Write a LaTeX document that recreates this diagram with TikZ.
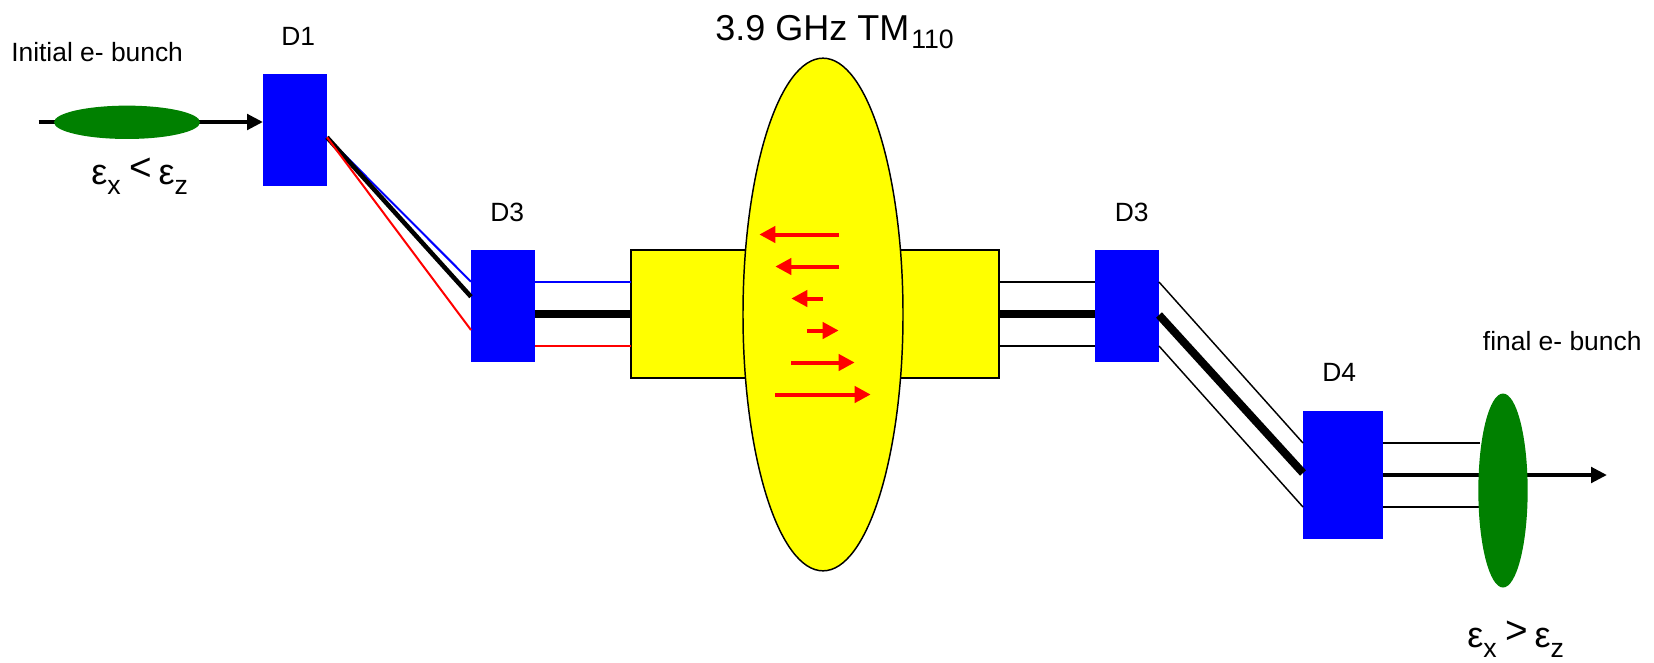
\documentclass[tikz,border=0pt]{standalone}
\usepackage{fontspec}
\setmainfont{Liberation Sans}
\usepackage{xcolor}
\usetikzlibrary{arrows.meta,shapes.geometric}
\definecolor{bunchgreen}{RGB}{0,128,0}
\definecolor{cavyellow}{RGB}{255,255,0}
\newcommand{\lowsub}[1]{\raisebox{-7.5pt}{\fontsize{20pt}{20pt}\selectfont #1}}
\newcommand{\highrel}[1]{\hspace{-1pt}\raisebox{2.5pt}{\fontsize{29pt}{29pt}\selectfont #1}\hspace{-2.5pt}}
\tikzset{
    dipole/.style={rectangle, fill=blue, inner sep=0, outer sep=0},
    bunch/.style={ellipse, fill=bunchgreen, inner sep=0, outer sep=0},
    cavity/.style={fill=cavyellow, draw=black, inner sep=0, outer sep=0},
    label/.style={anchor=base west, inner sep=0, font=\fontsize{19.8pt}{19.8pt}\selectfont},
    emit/.style={anchor=base west, inner sep=0, font=\fontsize{27pt}{27pt}\selectfont},
    thinray/.style={line width=1.5pt},
    slimray/.style={line width=1.1pt},
    midray/.style={line width=3.4pt},
    fatray/.style={line width=6pt},
    beam/.style={line width=3pt, -{Triangle[length=12pt,width=11.5pt]}},
    kick/.style={red, line width=3pt, -{Triangle[length=12pt,width=12pt]}}
}

\begin{document}
\begin{tikzpicture}[x=0.75pt, y=-0.75pt]
    \useasboundingbox (0,0) rectangle (1654,662);

    % Dipoles
    \node[dipole, minimum width=48pt, minimum height=84pt] (dipa) at (295,129.8) {};
    \node[dipole, minimum width=48pt, minimum height=84pt] (dipb) at (503,305.9) {};
    \node[dipole, minimum width=48pt, minimum height=84pt] (dipc) at (1127,305.9) {};
    \node[dipole, minimum width=60pt, minimum height=96pt] (dipd) at (1343,475) {};

    % Cavity: side arms and round body
    \node[cavity, line width=1.5pt, minimum width=276pt, minimum height=96pt] (arm) at (815.2,314.3) {};
    \node[cavity, ellipse, line width=1.1pt, minimum width=120pt, minimum height=384.5pt] (body) at (823,314.5) {};

    % End points of the rays
    \coordinate (start) at (38.6,122);
    \coordinate (outa) at (327,137.3);
    \coordinate (bluea) at (471,281.7);
    \coordinate (blacka) at (471,296.7);
    \coordinate (reda) at (471,330);
    \coordinate (blueb) at (535,282);
    \coordinate (blackb) at (535,314);
    \coordinate (redb) at (535,346);
    \coordinate (bluec) at (631,282);
    \coordinate (blackc) at (631,314);
    \coordinate (redc) at (631,346);
    \coordinate (upc) at (999,282);
    \coordinate (midc) at (999,314);
    \coordinate (lowc) at (999,346);
    \coordinate (upd) at (1095,282);
    \coordinate (midd) at (1095,314);
    \coordinate (lowd) at (1095,346);
    \coordinate (upe) at (1159,282);
    \coordinate (mide) at (1159,315);
    \coordinate (lowe) at (1159,346);
    \coordinate (upf) at (1303,443);
    \coordinate (midf) at (1303,473);
    \coordinate (lowf) at (1303,507);
    \coordinate (upg) at (1383,443);
    \coordinate (lowg) at (1383,507);
    \coordinate (uph) at (1480,443);
    \coordinate (lowh) at (1480,507);
    \coordinate (stop) at (1607,475);

    % Beam in, first bend
    \draw[beam] (start) -- (dipa.west |- start);
    \draw[thinray, blue] (outa) -- (bluea);
    \draw[midray] (outa) -- (blacka);
    \draw[thinray, red] (outa) -- (reda);

    % Into the cavity
    \draw[thinray, blue] (blueb) -- (bluec);
    \draw[fatray] (blackb) -- (blackc);
    \draw[thinray, red] (redb) -- (redc);

    % Out of the cavity
    \draw[thinray] (upc) -- (upd);
    \draw[fatray] (midc) -- (midd);
    \draw[thinray] (lowc) -- (lowd);

    % Second bend
    \draw[slimray] (upe) -- (upf);
    \draw[fatray] (mide) -- (midf);
    \draw[slimray] (lowe) -- (lowf);

    % Beam out
    \draw[thinray] (upg) -- (uph);
    \draw[thinray] (lowg) -- (lowh);
    \draw[beam] (dipd.east) -- (stop);

    % Bunches
    \node[bunch, minimum width=109.5pt, minimum height=25pt] (bunchin) at (127,122.3) {};
    \node[bunch, minimum width=37pt, minimum height=145.5pt] (bunchout) at (1503,490.5) {};

    % Kicks along the bunch
    \coordinate (kaa) at (839,234.5); \coordinate (kab) at (759.3,234.5);
    \coordinate (kba) at (839,266.5); \coordinate (kbb) at (775.3,266.5);
    \coordinate (kca) at (823,298.5); \coordinate (kcb) at (791.3,298.5);
    \coordinate (kda) at (807,330.5); \coordinate (kdb) at (838.7,330.5);
    \coordinate (kea) at (791,362.5); \coordinate (keb) at (854.7,362.5);
    \coordinate (kfa) at (775,394.5); \coordinate (kfb) at (870.7,394.5);
    \draw[kick] (kaa) -- (kab);
    \draw[kick] (kba) -- (kbb);
    \draw[kick] (kca) -- (kcb);
    \draw[kick] (kda) -- (kdb);
    \draw[kick] (kea) -- (keb);
    \draw[kick] (kfa) -- (kfb);

    % Labels
    \node[label] (lbinit) at (11,61.7) {Initial e- bunch};
    \node[label] (lbfinal) at (1482.7,350) {final e- bunch};
    \node[label] (lba) at (281,45.7) {D1};
    \node[label] (lbb) at (490,221.7) {D3};
    \node[label] (lbc) at (1114.5,221.7) {D3};
    \node[label] (lbd) at (1322,381.7) {D4};
    \node[emit] (title) at (715,40) {3.9 GHz TM\hspace{1.5pt}\raisebox{-6pt}{\fontsize{20pt}{20pt}\selectfont 110}};
    \node[emit] (emitin) at (91,184) {ε\lowsub{x} \highrel{<} ε\lowsub{z}};
    \node[emit] (emitout) at (1467,647) {ε\lowsub{x} \highrel{>} ε\lowsub{z}};
\end{tikzpicture}
\end{document}
